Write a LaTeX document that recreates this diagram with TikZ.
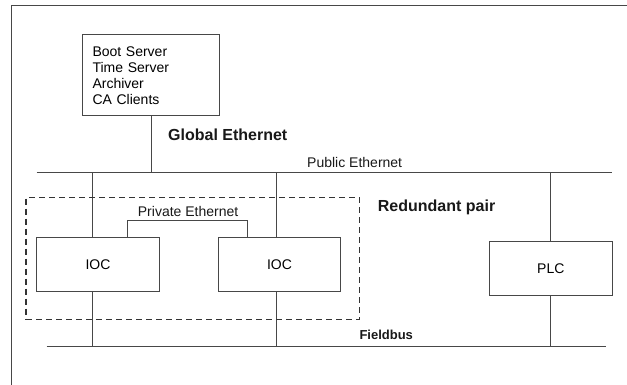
\documentclass[tikz,border=0pt]{standalone}
\usepackage{fontspec}
\setmainfont{Liberation Sans}
\begin{document}
\begin{tikzpicture}[x=1pt,y=-1pt,
  line/.style={draw=black!72,line width=1pt},
  box/.style={line,rectangle,inner sep=0pt,outer sep=0pt,font=\fontsize{14}{16}\selectfont},
  lbl/.style={inner sep=0pt,anchor=base west,font=\fontsize{14}{16}\selectfont,text=black!90},
  blbl/.style={inner sep=0pt,anchor=base west,font=\fontsize{16}{18}\bfseries\selectfont,text=black!90},
  pairbox/.style={draw=black!80,line width=1.4pt,dash pattern=on 6pt off 4pt,rectangle,inner sep=0pt}]
\useasboundingbox (0,0) rectangle (627,385);
\fill[white] (0,0) rectangle (627,385);
% frame
\coordinate (fr1) at (11,385);
\coordinate (fr2) at (11,6);
\coordinate (fr3) at (627,6);
\draw[line] (fr1) -- (fr2) -- (fr3);
% server box
\node[box,minimum width=137pt,minimum height=81pt,align=left,text width=117pt,inner xsep=10pt] (srv) at (151,75.3)
  {Boot Server\\Time Server\\Archiver\\CA Clients};
% buses
\coordinate (pubL) at (36.7,172.7);
\coordinate (pubR) at (612.3,172.7);
\coordinate (fbL) at (46.7,346.7);
\coordinate (fbR) at (606,346.7);
\draw[line] (pubL) -- (pubR);
\draw[line] (fbL) -- (fbR);
\draw[line] (srv.south) -- (srv.south |- pubL);
% taps
\coordinate (t1) at (92,172.7);
\coordinate (t2) at (276.7,172.7);
\coordinate (t3) at (550.7,172.7);
% boxes
\node[box,minimum width=122.6pt,minimum height=54.3pt] (ioc1) at (98,264.8) {IOC};
\node[box,minimum width=122.4pt,minimum height=54.3pt] (ioc2) at (279.5,264.8) {IOC};
\node[box,minimum width=123pt,minimum height=54.3pt] (plc) at (550.8,268.2) {PLC};
\draw[line] (t1) -- (t1 |- ioc1.north);
\draw[line] (t1 |- ioc1.south) -- (t1 |- fbL);
\draw[line] (t2) -- (t2 |- ioc2.north);
\draw[line] (t2 |- ioc2.south) -- (t2 |- fbL);
\draw[line] (t3) -- (t3 |- plc.north);
\draw[line] (t3 |- plc.south) -- (t3 |- fbL);
% private ethernet
\coordinate (p1) at (127.3,221);
\coordinate (p2) at (247,221);
\draw[line] (p1 |- ioc1.north) -- (p1) -- (p2) -- (p2 |- ioc2.north);
% redundant pair box
\node[pairbox,minimum width=333.3pt,minimum height=122pt] (pair) at (192.65,258.3) {};
% labels
\node[blbl] (glob) at (168,140.7) {Global Ethernet};
\node[lbl] (pub) at (307,168) {Public Ethernet};
\node[lbl] (priv) at (137.7,216.7) {Private Ethernet};
\node[blbl] (red) at (377.7,211.7) {Redundant pair};
\node[inner sep=0pt,anchor=base west,font=\fontsize{13}{15}\bfseries\selectfont,text=black!90] (fb) at (359.3,339.3) {Fieldbus};
\end{tikzpicture}
\end{document}
